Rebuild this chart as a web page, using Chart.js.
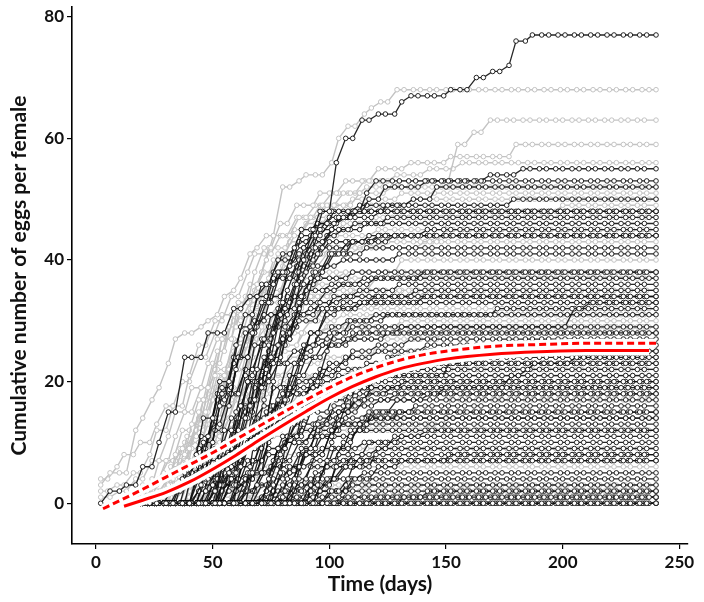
<!DOCTYPE html>
<html><head><meta charset="utf-8">
<script src="https://cdn.jsdelivr.net/npm/chart.js@4.4.1/dist/chart.umd.min.js"></script>
<style>html,body{margin:0;padding:0;background:#fff}canvas{display:block}</style>
</head><body>
<canvas id="c" width="704" height="602"></canvas>
<script>
// Observation schedules (days)
const schedA=[2,5,9,12,16,19,23,26,30,33,37,40,44,47,51,54,58,61,65,68,72,75,79,82,86,89,93,96,100,103,107,110,114,117,121,124,128,131,135,138,142,145,149,152,156,159,163,166,170,173,177,180,184,187,191,194,198,201,205,208,212,215,219,222,226,229,233,236,240];
const schedB=[2,6,10,13,17,20,24,27,31,34,38,41,45,48,52,55,59,62,66,69,73,76,80,83,87,90,94,97,101,104,108,111,115,118,122,125,129,132,136,139,143,146,150,153,157,160,164,167,171,174,178,181,185,188,192,195,199,202,206,209,213,216,220,223,227,230,234,237,240];
const schedC=[2,4,8,11,15,18,22,25,29,32,36,39,43,46,50,53,57,60,64,67,71,74,78,81,85,88,92,95,99,102,106,109,113,116,120,123,127,130,134,137,141,144,148,151,155,158,162,165,169,172,176,179,183,186,190,193,197,200,204,207,211,214,218,221,225,228,232,235,240];

// Cumulative eggs per female: [day, cumulative, day, cumulative, ...] at changes
const blackFemales=[
[18,0,40,0,47,2,54,6,60,11,66,17,72,24,78,31,83,36,87,40,92,45,96,48,102,56,107,60,112,63,118,64,129,66,132,67,150,68,161,70,169,71,175,72,180,76,187,77],
[2,0,6,2,12,3,20,6,26,10,31,15,35,20,38,24,42,24,47,28,52,28,57,32,64,34,70,35,73,36,77,38,81,39,86,41,91,44,96,48],
[18,0,30,0,38,4,45,10,52,16,58,22,64,28,70,33,76,38,82,42,88,45,95,46,105,47,113,48,115,51,119,53,166,53,167,54,177,54,180,55],
[18,0,35,0,42,5,48,12,54,18,60,24,66,29,72,33,79,38,86,42,92,44,98,46,104,47,110,48,117,50,123,52,140,53],
[18,0,40,0,48,4,55,10,62,16,68,22,74,28,80,33,86,38,92,42,98,45,104,47,110,48,125,49,135,50,145,52],
[18,0,28,0,34,3,40,8,46,14,52,20,58,26,64,31,70,36,78,40,86,44,94,46,102,48,112,49,178,50],
[18,0,45,0,52,6,58,12,64,20,70,27,76,33,82,38,88,42,94,45,100,47,108,48],
[18,0,33,0,40,5,46,11,52,18,58,24,64,29,70,33,76,37,84,40,92,43,100,45,110,46,125,47],
[18,0,50,0,56,5,62,12,68,19,74,26,80,32,86,37,92,41,98,44,104,45,115,46],
[18,0,38,0,44,4,50,9,56,14,62,20,68,26,74,31,80,35,86,39,94,41,100,43,115,44,140,45],
[18,0,55,0,62,6,68,13,74,20,80,27,86,33,92,38,98,41,106,43,120,44],
[18,0,42,0,48,3,54,8,60,14,66,20,72,25,78,30,84,34,90,37,98,39,106,40,130,41],
[18,0,30,0,36,4,42,9,48,14,54,19,60,24,66,28,72,31,80,34,88,36,96,37,110,38],
[18,0,48,0,54,5,60,11,66,17,72,23,78,28,84,32,90,35,100,36,115,37],
[18,0,60,0,66,5,72,11,78,17,84,23,90,28,96,32,102,34,110,35,130,36],
[18,0,44,0,50,4,56,9,62,14,68,19,74,24,80,28,86,31,94,33,105,34],
[18,0,36,0,42,3,48,7,54,12,60,16,66,20,72,24,78,27,86,30,96,32,112,33],
[18,0,66,0,72,4,78,9,84,15,90,20,96,25,102,28,108,30,118,31,170,32],
[18,0,52,0,58,4,64,9,70,14,76,19,82,23,88,26,96,28,110,29,200,29,203,32,210,33],
[18,0,58,0,64,5,70,11,76,16,82,21,88,24,96,26,106,27,125,28],
[18,0,40,0,46,3,52,7,58,12,64,16,70,20,76,23,84,25,94,27,110,28],
[18,0,70,0,76,5,82,11,88,16,94,20,100,23,108,25,118,26,135,27],
[18,0,62,0,68,3,74,7,80,11,86,14,92,17,100,19,170,19,175,21,182,22,186,23,205,24],
[18,0,75,0,82,4,88,9,94,13,100,16,108,19,118,21,150,22],
[18,0,35,0,42,2,48,5,54,8,60,11,66,14,72,16,80,18,90,19,105,20],
[18,0,80,0,86,4,92,8,98,12,104,15,110,17,118,19,130,20],
[18,0,55,0,60,3,66,7,72,10,78,13,84,15,92,17,102,18,125,19],
[18,0,45,0,52,3,58,6,64,9,70,12,76,14,84,16,95,17,115,18],
[18,0,68,0,74,3,80,7,86,10,92,13,98,15,106,16,120,17],
[18,0,85,0,92,3,98,7,104,10,110,13,118,15,135,16],
[18,0,58,0,64,2,70,5,76,8,82,11,88,13,96,14,115,15],
[18,0,72,0,78,3,84,6,90,9,96,11,104,13,118,14],
[18,0,50,0,56,2,62,4,68,7,74,9,80,10,90,11,110,12],
[18,0,90,0,96,3,102,6,108,8,116,10,130,11],
[18,0,64,0,70,2,76,4,82,6,88,8,96,9,115,10],
[18,0,78,0,84,2,90,4,96,6,104,7,120,8],
[18,0,40,0,48,2,56,4,64,5,74,6,90,7],
[18,0,95,0,100,2,106,4,115,5],
[18,0,60,0,68,1,76,2,86,3,100,4],
[18,0,75,0,85,1,95,2,110,3],
[18,0,70,0,80,1],
[18,0,110,0,118,1],
[18,0],
[18,0],
[18,0],
[18,0,100,0,106,1],
[18,0,32,0,38,5,44,11,50,17,56,23,62,29,68,34,74,38,80,41,86,43,94,45,104,47,120,48],
[18,0,46,0,52,4,58,9,64,15,70,21,76,26,82,30,88,33,96,35,106,36,120,37,140,38],
[18,0,54,0,60,3,66,7,72,12,78,17,84,21,90,24,98,26,108,28,130,29],
[18,0,62,0,70,2,78,5,86,8,94,11,102,13,112,14],
[18,0,82,0,90,2,98,4,106,6,114,7],
[18,0,36,0,44,6,50,12,56,18,62,24,68,30,74,34,80,37,88,40,96,42,108,43,120,44],
[18,0,48,0,54,3,60,7,66,11,72,15,78,18,84,20,92,21,104,22,130,23],
[18,0,56,0,62,2,68,5,74,8,80,10,88,12,98,13],
[18,0,88,0,94,2,100,4,106,6,112,8,120,9],
[18,0,44,0,52,4,60,9,68,14,76,19,84,23,90,26,98,29,108,30,125,31],
[18,0,26,0,32,2,38,5,44,9,50,13,56,18,62,22,68,26,74,29,82,31,92,32,110,33,140,34],
[18,0,65,0,72,1,80,2],
[18,0,84,0,92,5,98,10,104,15,110,19,116,22,124,24,140,25],
[18,0,60,0,68,3,76,7,84,11,92,15,100,18,108,21,116,23,126,24,140,25],
[18,0,72,0,80,4,88,8,96,12,104,16,112,19,120,21,130,22,150,23],
[18,0,86,0,94,4,102,8,110,12,118,15,126,17,140,18],
[18,0,52,0,60,2,68,5,76,9,84,13,92,17,100,20,110,22,125,23,160,24],
[18,0,98,0,104,3,110,6,118,9,126,11,140,12],
[18,0,66,0,74,2,82,5,90,8,98,12,106,15,114,17,126,18,150,19],
[18,0,38,0,45,4,52,9,58,15,64,21,70,27,76,32,82,36,90,39,100,41,115,42],
[18,0,50,0,57,4,63,10,69,17,75,23,81,29,87,34,93,38,100,41,110,43,125,44],
[18,0,42,0,50,3,58,7,66,11,74,15,82,18,92,20,104,21],
[18,0,76,0,84,3,92,6,100,9,108,12,116,14,130,15],
[18,0,92,0,100,2,108,4,118,6,130,7,150,8],
[18,0,120,0,130,1,140,2],
[18,0,56,0,62,4,68,9,74,14,80,19,86,24,92,28,98,31,106,33,118,34,135,35],
[18,0,46,0,54,3,62,7,70,11,78,15,86,19,94,22,104,24,118,25,140,26]
];

const grayFemales=[
[2,3,6,5,14,6,15,12,18,14,22,17,27,19,30,23,34,27,38,28,42,29,46,30,50,31,54,34,57,35,60,37,63,41,67,42,71,44,75,44,77,46,80,52,83,52,87,53,90,54,98,56,104,60,107,62,112,64,116,65,120,66,126,68],
[16,0,30,0,36,3,42,8,48,14,54,20,60,26,66,32,72,37,78,41,84,44,90,47,96,49,104,51,115,52,130,53,152,54,155,59,162,61,166,61,169,63],
[16,0,25,0,30,4,36,9,42,15,48,21,54,27,60,33,66,38,72,42,78,46,86,49,94,51,104,53,118,55,135,56,150,57,177,57,180,59],
[16,0,22,0,28,3,34,8,40,13,46,19,52,25,58,31,64,36,70,40,76,44,84,47,92,49,100,51,112,53,126,54,140,55,155,56],
[16,0,20,0,26,2,32,6,38,11,44,17,50,23,56,29,62,34,68,38,74,42,82,45,90,47,100,49,112,51,125,52],
[2,2,8,3,14,5,20,8,26,12,32,16,38,21,44,26,50,30,56,34,62,38,68,41,76,44,86,47,96,49,110,50,130,51],
[16,0,28,0,34,4,40,9,46,15,52,21,58,27,64,32,70,36,76,40,82,43,90,46,100,48,115,49,135,50],
[16,0,32,0,38,3,44,7,50,12,56,18,62,24,68,29,74,33,80,37,88,41,96,44,106,46,120,47,160,48,200,49],
[16,0,18,0,24,3,30,7,36,12,42,17,48,22,54,27,60,31,66,35,72,38,80,41,90,43,100,44,120,45,150,47],
[2,1,10,2,16,4,22,7,28,11,34,15,40,19,46,23,52,27,58,30,64,33,72,36,80,39,90,41,100,42,120,43,150,45],
[16,0,24,0,30,3,36,7,42,12,48,17,54,22,60,26,66,30,72,34,80,37,88,39,96,41,110,42,140,43],
[16,0,20,0,26,2,32,5,38,9,44,13,50,18,56,22,62,26,68,29,76,32,84,35,94,37,104,38,130,40],
[16,0,34,0,40,4,46,9,52,14,58,19,64,24,70,28,76,31,84,34,92,36,104,37,125,38],
[16,0,16,0,22,2,28,5,34,9,40,13,46,17,52,21,58,24,64,27,70,30,78,32,88,34,100,35,120,37],
[16,0,26,0,32,2,38,6,44,10,50,14,56,18,62,22,68,26,74,29,82,31,92,33,110,34,140,35],
[12,0,18,2,24,4,30,7,36,10,42,14,48,18,54,21,60,24,66,27,74,29,84,31,96,32,120,33],
[16,0,30,0,36,3,42,6,48,10,54,14,60,18,66,22,72,25,80,28,90,30,104,31],
[16,0,22,0,28,2,34,4,40,7,46,10,52,14,58,17,64,20,70,23,78,26,88,28,100,29,130,30],
[16,0,38,0,44,3,50,6,56,10,62,14,68,18,74,21,82,24,92,26,106,27,150,29],
[16,0,18,0,24,1,30,3,36,5,42,8,48,11,54,14,60,17,66,19,74,21,84,23,96,24,120,25],
[16,0,28,0,34,2,40,4,46,7,52,10,58,13,64,16,70,18,78,20,90,21,110,22],
[16,0,40,0,46,2,52,5,58,8,64,11,70,14,76,16,84,18,96,19,120,21],
[16,0,24,0,30,1,36,3,42,5,48,8,54,10,60,12,68,14,78,16,92,17,120,19],
[16,0,32,0,38,2,44,4,50,6,56,8,62,10,70,12,80,13,150,17],
[16,0,20,0,28,1,36,3,44,5,52,7,60,9,70,11,84,12],
[16,0,44,0,52,2,60,4,68,6,78,8,90,9],
[16,0,30,0,40,1,50,2,60,4,72,5,86,6],
[16,0,35,0,45,1,55,2,70,3],
[16,0,50,0,60,1,75,2],
[16,0,40,0,52,1],
[16,0],
[16,0],
[2,4,8,6,12,8,18,10,24,13,30,16,36,20,42,24,48,28,54,31,60,33,68,35,80,37,95,38],
[12,0,14,0,20,3,26,7,32,11,38,15,44,19,50,22,56,25,62,27,70,29,80,31,100,32],
[16,0,36,0,42,5,48,11,54,17,60,22,66,26,72,29,80,32,90,34,100,35],
[16,0,26,0,32,4,38,9,44,14,50,19,56,24,62,28,68,31,76,33,90,34,110,35],
[12,0,16,0,22,2,28,4,34,7,40,10,46,13,52,16,58,18,66,20,76,21],
[16,0,42,0,48,3,54,7,60,12,66,17,72,21,78,25,86,28,98,29]
];

// Fitted curves
const solidDays=[12,20,30,40,50,60,70,80,90,100,110,120,130,140,150,170,190,210,237];
const solidVals=[-0.5,0.5,1.8,3.5,5.6,7.9,10.4,12.8,15.1,17.3,19.2,20.8,22.1,23.0,23.7,24.5,24.9,25.1,25.1];
const dashDays=[3,10,20,30,40,50,60,70,80,90,100,110,120,130,140,150,170,190,210,240];
const dashVals=[-0.9,0.4,2.3,4.3,6.3,8.3,10.5,12.7,14.9,17.0,19.0,20.8,22.3,23.5,24.4,25.0,25.8,26.1,26.3,26.3];

const xTicks=[0,50,100,150,200,250];
const yTicks=[0,20,40,60,80];

const scheds=[schedA,schedB,schedC];
function expand(cp,sched){
  const out=[];
  for(const d of sched){
    if(d<cp[0]) continue;
    let v=null;
    for(let i=0;i<cp.length;i+=2){ if(cp[i]<=d) v=cp[i+1]; else break; }
    out.push({x:d,y:v});
  }
  return out;
}
const GRAY='rgb(195,195,195)';
const BLACK='rgba(15,15,15,0.9)';
const datasets=[];
grayFemales.forEach((cp,i)=>datasets.push({data:expand(cp,scheds[(i+1)%3]),borderColor:GRAY,borderWidth:1.4,pointRadius:2.3,pointBorderWidth:1,pointBorderColor:GRAY,pointBackgroundColor:'#fff',order:4}));
blackFemales.forEach((cp,i)=>datasets.push({data:expand(cp,scheds[i%3]),borderColor:BLACK,borderWidth:1.3,pointRadius:2.3,pointBorderWidth:1,pointBorderColor:BLACK,pointBackgroundColor:'#fff',order:3}));
const solidData=solidDays.map((d,i)=>({x:d,y:solidVals[i]}));
const dashData=dashDays.map((d,i)=>({x:d,y:dashVals[i]}));
datasets.push({data:solidData,borderColor:'#fff',borderWidth:10,pointRadius:0,cubicInterpolationMode:'monotone',order:2});
datasets.push({data:dashData,borderColor:'#fff',borderWidth:9,pointRadius:0,cubicInterpolationMode:'monotone',order:2});
datasets.push({data:solidData,borderColor:'#ff0000',borderWidth:3,pointRadius:0,cubicInterpolationMode:'monotone',order:1});
datasets.push({data:dashData,borderColor:'#ff0000',borderWidth:3,borderDash:[7,4],pointRadius:0,cubicInterpolationMode:'monotone',order:1});

const FONT='Lato';
new Chart(document.getElementById('c'),{
  type:'line',
  data:{datasets},
  options:{
    responsive:false,animation:false,events:[],
    layout:{padding:{left:0,right:16,top:7,bottom:0}},
    plugins:{legend:{display:false},tooltip:{enabled:false}},
    scales:{
      x:{type:'linear',min:-10.3,max:253.7,
        afterBuildTicks:s=>{s.ticks=xTicks.map(v=>({value:v}));},
        afterFit:s=>{s.height=58;s.paddingLeft=0;s.paddingRight=0;},
        grid:{drawOnChartArea:false,drawTicks:true,tickLength:5,color:'#000',lineWidth:1.2},
        border:{display:true,color:'#000',width:1.6},
        ticks:{font:{family:FONT,size:17,weight:'bold'},color:'#111',padding:3,maxRotation:0},
        title:{display:true,text:'Time (days)',font:{family:FONT,size:21,weight:'bold'},color:'#111',padding:{top:0,bottom:5}}
      },
      y:{type:'linear',min:-6.7,max:81.6,
        afterBuildTicks:s=>{s.ticks=yTicks.map(v=>({value:v}));},
        afterFit:s=>{s.width=72;s.paddingTop=0;s.paddingBottom=0;},
        grid:{drawOnChartArea:false,drawTicks:true,tickLength:5,color:'#000',lineWidth:1.2},
        border:{display:true,color:'#000',width:1.6},
        ticks:{font:{family:FONT,size:17,weight:'bold'},color:'#111',padding:3},
        title:{display:true,text:'Cumulative number of eggs per female',font:{family:FONT,size:21,weight:'bold'},color:'#111',padding:{top:7,bottom:0}}
      }
    }
  }
});
</script>
</body></html>
